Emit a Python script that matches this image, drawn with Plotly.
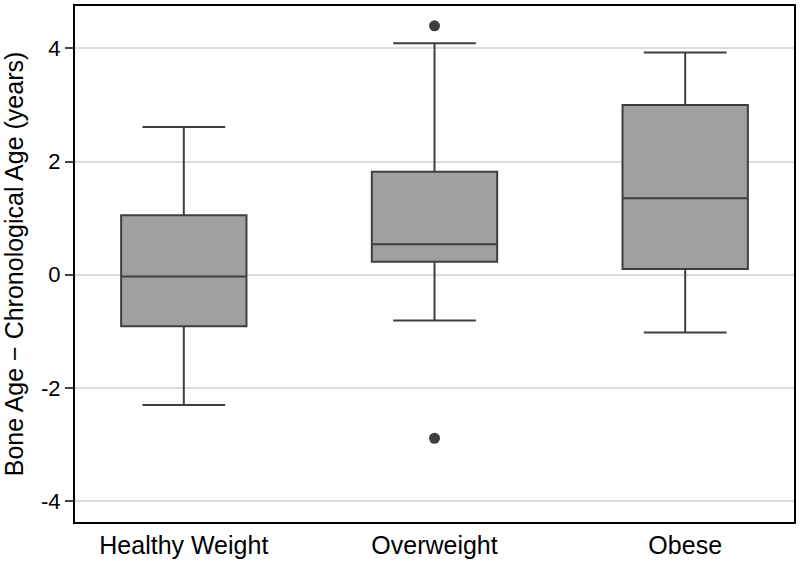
import plotly.graph_objects as go

groups = ["Healthy Weight", "Overweight", "Obese"]
q1 = [-0.91, 0.23, 0.10]
median = [-0.03, 0.54, 1.35]
q3 = [1.05, 1.82, 3.00]
lower_whisker = [-2.30, -0.81, -1.02]
upper_whisker = [2.61, 4.09, 3.93]

outlier_group = ["Overweight", "Overweight"]
outlier_value = [4.40, -2.89]

y_ticks = [-4, -2, 0, 2, 4]
y_tick_labels = ["-4", "-2", "0", "2", "4"]

fig = go.Figure()
fig.add_trace(go.Box(
    x=groups,
    q1=q1,
    median=median,
    q3=q3,
    lowerfence=lower_whisker,
    upperfence=upper_whisker,
    fillcolor="#a0a0a0",
    line=dict(color="#3f3f3f", width=2),
    whiskerwidth=0.66,
    width=0.5,
    boxpoints=False,
    showlegend=False,
    hoverinfo="y",
))
fig.add_trace(go.Scatter(
    x=outlier_group,
    y=outlier_value,
    mode="markers",
    marker=dict(color="#3f3f3f", size=11),
    showlegend=False,
))

fig.update_xaxes(
    type="category",
    range=[-0.434, 2.434],
    showgrid=False,
    showline=True, linecolor="black", linewidth=2, mirror=True,
    ticks="",
    tickfont=dict(size=25, color="black"),
)
fig.update_yaxes(
    range=[-4.37, 4.75],
    tickvals=y_ticks,
    ticktext=y_tick_labels,
    showgrid=True, gridcolor="#dcdcdc", gridwidth=1.5,
    zeroline=False,
    showline=True, linecolor="black", linewidth=2, mirror=True,
    ticks="outside", ticklen=8, tickcolor="#444444", tickwidth=1.5,
    tickfont=dict(size=22, color="black"),
    title=dict(text="Bone Age − Chronological Age (years)",
               font=dict(size=25, color="black"), standoff=14),
)
fig.update_layout(
    width=800, height=563,
    margin=dict(l=75, r=5, t=4, b=39),
    plot_bgcolor="white",
    paper_bgcolor="white",
    font=dict(family="Liberation Sans, Arial, sans-serif"),
)
# drop the default 8px page margin so the figure sits at the window's corner
fig.write_html("out.html", config={"displayModeBar": False},
               post_script="document.body.style.margin='0';")
